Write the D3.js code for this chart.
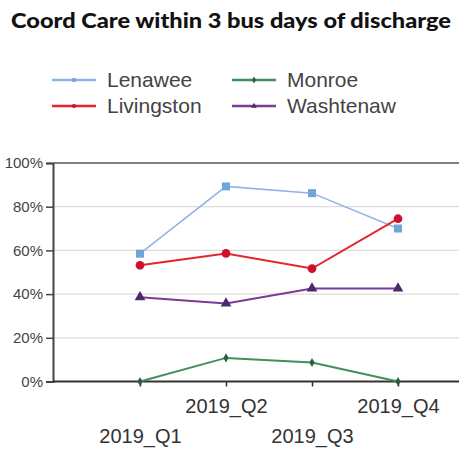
<!DOCTYPE html>
<html><head><meta charset="utf-8">
<script src="https://cdn.jsdelivr.net/npm/d3@7"></script>
<style>body{margin:0;background:#fff}svg{display:block}</style>
</head><body>
<script>
const categories = ["2019_Q1","2019_Q2","2019_Q3","2019_Q4"];
const seriesNames = ["Lenawee","Livingston","Monroe","Washtenaw"];
const lenawee    = [58.5, 89.3, 86.2, 70.0];
const livingston = [53.2, 58.6, 51.7, 74.5];
const monroe     = [0, 10.8, 8.7, 0];
const washtenaw  = [38.6, 35.7, 42.6, 42.6];
const yTicks = [0,20,40,60,80,100];
const titleText = "Coord Care within 3 bus days of discharge";

const W=459,H=451;
const svg=d3.select("body").append("svg").attr("width",W).attr("height",H);
const x=d3.scalePoint().domain(categories).range([140,398]);
const y=d3.scaleLinear().domain([0,100]).range([381.5,163]);

svg.append("text").attr("x",231).attr("y",28).attr("text-anchor","middle")
 .attr("font-family","Lato, 'Open Sans', sans-serif").attr("font-weight","900")
 .attr("font-size",21).attr("fill","#111")
 .attr("textLength",440).attr("lengthAdjust","spacingAndGlyphs").text(titleText);

// gridlines
svg.append("g").selectAll("line").data(yTicks.slice(1)).join("line")
 .attr("x1",54).attr("x2",W).attr("y1",d=>y(d)).attr("y2",d=>y(d))
 .attr("stroke",d=>d===100?"#555":"#dcdcdc").attr("stroke-width",d=>d===100?1.5:1.2);

const yAxis=svg.append("g").attr("transform","translate(53,0)")
 .call(d3.axisLeft(y).tickValues(yTicks).tickFormat(d=>d+"%").tickSize(7).tickPadding(3));
yAxis.select(".domain").attr("stroke","#444").attr("stroke-width",2);
yAxis.selectAll(".tick line").attr("stroke","#444").attr("stroke-width",1.5);
yAxis.selectAll("text").attr("font-family","'Liberation Sans', Arial, sans-serif").attr("font-size",15).attr("fill","#444");

const xAxis=svg.append("g").attr("transform",`translate(0,${y(0)})`)
 .call(d3.axisBottom(x).tickSize(5).tickPadding(4));
xAxis.select(".domain").attr("d",`M53,0H${W}`).attr("stroke","#333").attr("stroke-width",2);
xAxis.selectAll(".tick line").attr("stroke","#333").attr("stroke-width",1.5);
xAxis.selectAll("text").attr("font-family","'Liberation Sans', Arial, sans-serif").attr("font-size",20).attr("fill","#333")
 .attr("dy",null).attr("y",(d,i)=>i%2===0?61:31);

const series=[
 {name:"Lenawee",vals:lenawee,line:"#93b1ea",mark:"#6ea6d8",sym:d3.symbolSquare,size:64},
 {name:"Livingston",vals:livingston,line:"#e3262a",mark:"#d0102a",sym:d3.symbolCircle,size:60},
 {name:"Monroe",vals:monroe,line:"#3f8f5f",mark:"#2b5e40",sym:d3.symbolDiamond,size:24},
 {name:"Washtenaw",vals:washtenaw,line:"#7a3a9a",mark:"#4a2a6a",sym:d3.symbolTriangle,size:50}
];
const line=d3.line().x((d,i)=>x(categories[i])).y(d=>y(d));
series.forEach(s=>{
 svg.append("path").attr("d",line(s.vals)).attr("fill","none").attr("stroke",s.line).attr("stroke-width",s.name==="Lenawee"?1.5:2);
 svg.append("g").selectAll("path").data(s.vals).join("path")
  .attr("transform",(d,i)=>`translate(${x(categories[i])},${y(d)})`)
  .attr("d",d3.symbol().type(s.sym).size(s.size)).attr("fill",s.mark);
});

// legend
const leg=svg.append("g");
const legPos=[[52,80],[52,106],[232,80],[232,106]];
series.forEach((s,i)=>{
 const [lx,ly]=legPos[i];
 const g=leg.append("g").attr("transform",`translate(${lx},${ly})`);
 g.append("line").attr("x1",0).attr("x2",44).attr("y1",0).attr("y2",0).attr("stroke",s.line).attr("stroke-width",2.5);
 g.append("path").attr("transform","translate(22,0)").attr("d",d3.symbol().type(s.sym).size(14)).attr("fill",s.mark);
 g.append("text").attr("x",55).attr("y",7).attr("font-family","'Liberation Sans', Arial, sans-serif")
  .attr("font-size",21).attr("fill","#444").text(s.name);
});
</script>
</body></html>
